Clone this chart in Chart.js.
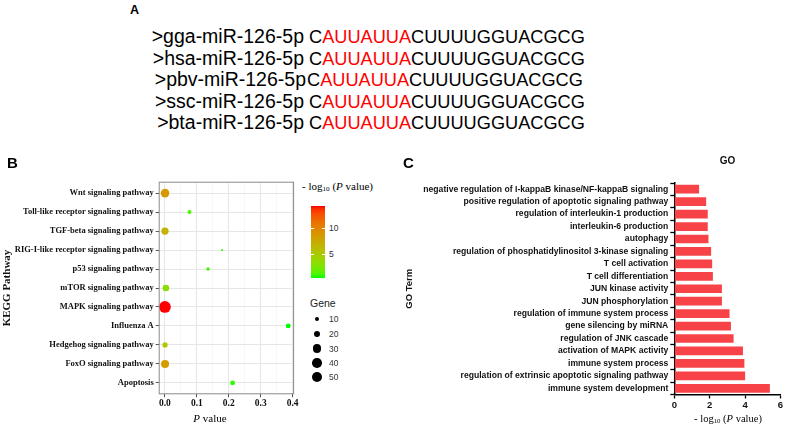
<!DOCTYPE html>
<html>
<head>
<meta charset="utf-8">
<script src="https://cdn.jsdelivr.net/npm/chart.js@4.4.1/dist/chart.umd.min.js"></script>
<style>
  body { margin: 0; background: #fff; }
  #page { position: relative; width: 786px; height: 429px; overflow: hidden; font-family: "Liberation Sans", Arial, sans-serif; }
  .t { position: absolute; white-space: nowrap; line-height: 1; }
  .serif { font-family: "Liberation Serif", "Times New Roman", serif; }
  .letter { font-weight: bold; }
  canvas { position: absolute; }
  sub { font-size: 65%; vertical-align: -0.25em; line-height: 0; }
</style>
</head>
<body>
<div id="page">
  <canvas id="kegg" width="300" height="259" style="left:0;top:170px;width:300px;height:259px"></canvas>
  <canvas id="go" width="396" height="279" style="left:390px;top:150px;width:396px;height:279px"></canvas>
</div>
<script>
// panel A: sequences
const mirNames = ['>gga-miR-126-5p', '>hsa-miR-126-5p', '>pbv-miR-126-5p', '>ssc-miR-126-5p', '>bta-miR-126-5p'];
const mirSeqs = ['CAUUAUUACUUUUGGUACGCG', 'CAUUAUUACUUUUGGUACGCG', 'CAUUAUUACUUUUGGUACGCG', 'CAUUAUUACUUUUGGUACGCG', 'CAUUAUUACUUUUGGUACGCG'];
const seedFrom = 1, seedTo = 8;

// panel B: KEGG bubbles (bottom to top)
const keggPathways = ['Apoptosis', 'FoxO signaling pathway', 'Hedgehog signaling pathway', 'Influenza A',
  'MAPK signaling pathway', 'mTOR signaling pathway', 'p53 signaling pathway',
  'RIG-I-like receptor signaling pathway', 'TGF-beta signaling pathway',
  'Toll-like receptor signaling pathway', 'Wnt signaling pathway'];
const keggPValue = [0.212, 0.0004, 0.0003, 0.386, 0.0000001, 0.003, 0.135, 0.179, 0.0002, 0.077, 0.0003];
const keggGenes = [10, 28, 12, 10, 60, 19, 5, 2, 23, 7, 32];
const keggLogP = [0.67, 8.6, 5.4, 0.41, 14.4, 3.4, 0.87, 0.75, 6.9, 1.11, 8.8];
const pTicks = [0, 0.1, 0.2, 0.3, 0.4];
const colourTicks = [5, 10];
const geneBreaks = [10, 20, 30, 40, 50];

// panel C: GO terms (top to bottom)
const goTerms = ['negative regulation of I-kappaB kinase/NF-kappaB signaling',
  'positive regulation of apoptotic signaling pathway', 'regulation of interleukin-1 production',
  'interleukin-6 production', 'autophagy', 'regulation of phosphatidylinositol 3-kinase signaling',
  'T cell activation', 'T cell differentiation', 'JUN kinase activity', 'JUN phosphorylation',
  'regulation of immune system process', 'gene silencing by miRNA', 'regulation of JNK cascade',
  'activation of MAPK activity', 'immune system process',
  'regulation of extrinsic apoptotic signaling pathway', 'immune system development'];
const goLogP = [1.40, 1.80, 1.89, 1.89, 1.93, 2.08, 2.14, 2.18, 2.69, 2.69, 3.12, 3.20, 3.35, 3.88, 3.96, 4.00, 5.40];
const goTicks = [0, 2, 4, 6];

const page = document.getElementById('page');
function text(html, x, y, style, cls) {
  const d = document.createElement('div');
  d.className = 't ' + (cls || '');
  d.innerHTML = html;
  d.style.cssText = `left:${x}px;top:${y}px;` + (style || '');
  page.appendChild(d);
  return d;
}

// ---- colour scale: green -> red interpolated in CIE Lab (like ggplot) ----
function toLab([r, g, b]) {
  const lin = c => { c /= 255; return c <= 0.04045 ? c / 12.92 : Math.pow((c + 0.055) / 1.055, 2.4); };
  const R = lin(r), G = lin(g), B = lin(b);
  const X = (0.4124 * R + 0.3576 * G + 0.1805 * B) / 0.95047;
  const Y = 0.2126 * R + 0.7152 * G + 0.0722 * B;
  const Z = (0.0193 * R + 0.1192 * G + 0.9505 * B) / 1.08883;
  const f = t => t > 0.008856 ? Math.cbrt(t) : 7.787 * t + 16 / 116;
  return [116 * f(Y) - 16, 500 * (f(X) - f(Y)), 200 * (f(Y) - f(Z))];
}
function fromLab([L, a, b]) {
  const fy = (L + 16) / 116, fx = fy + a / 500, fz = fy - b / 200;
  const inv = t => t * t * t > 0.008856 ? t * t * t : (t - 16 / 116) / 7.787;
  const X = inv(fx) * 0.95047, Y = inv(fy), Z = inv(fz) * 1.08883;
  const R = 3.2406 * X - 1.5372 * Y - 0.4986 * Z;
  const G = -0.9689 * X + 1.8758 * Y + 0.0415 * Z;
  const B = 0.0557 * X - 0.2040 * Y + 1.0570 * Z;
  const gam = c => { c = c <= 0.0031308 ? 12.92 * c : 1.055 * Math.pow(c, 1 / 2.4) - 0.055; return Math.round(Math.min(1, Math.max(0, c)) * 255); };
  return `rgb(${gam(R)},${gam(G)},${gam(B)})`;
}
const labLow = toLab([0, 255, 0]), labHigh = toLab([255, 0, 0]);
const cMin = Math.min(...keggLogP), cMax = Math.max(...keggLogP);
function logColour(v) {
  const t = (v - cMin) / (cMax - cMin);
  return fromLab(labLow.map((l, i) => l + (labHigh[i] - l) * t));
}
const geneRadius = g => 0.76 * Math.sqrt(g);

// ---- panel A ----
text('A', 130, 10, 'font-size:12.5px;transform:translateY(-50%)', 'letter');
const rowY = [37, 58.5, 80, 101.5, 123];
const seqLeft = [309, 309, 307, 309, 309];
const labelGap = [5, 5, 1, 5, 5];
mirNames.forEach((name, i) => {
  text(name, 0, rowY[i], `font-size:19.5px;width:${seqLeft[i] - labelGap[i]}px;text-align:right;transform:translateY(-50%)`);
  const s = mirSeqs[i];
  const html = s.slice(0, seedFrom) + '<span style="color:#f00">' + s.slice(seedFrom, seedTo) + '</span>' + s.slice(seedTo);
  text(html, seqLeft[i], rowY[i], 'font-size:18.2px;transform:translateY(-50%)');
});

// ---- panel B ----
text('B', 7, 162, 'font-size:15px;transform:translateY(-50%)', 'letter');
text('P value'.replace('P', '<i>P</i>'), 210, 418, 'font-size:11px;transform:translate(-50%,-50%)', 'serif');

const isMajor = v => Math.abs(v * 10 - Math.round(v * 10)) < 1e-6;
const panelBorder = {
  id: 'panelBorder',
  afterDatasetsDraw(chart) {
    const { ctx, chartArea: a } = chart;
    ctx.save();
    ctx.strokeStyle = '#8a8a8a';
    ctx.lineWidth = 1;
    ctx.strokeRect(a.left + 0.5, a.top + 0.5, a.right - a.left - 1, a.bottom - a.top - 1);
    ctx.restore();
  }
};

new Chart(document.getElementById('kegg'), {
  type: 'bubble',
  data: {
    datasets: [{
      data: keggPValue.map((p, i) => ({ x: p, y: i, r: geneRadius(keggGenes[i]) })),
      backgroundColor: keggLogP.map(logColour),
      borderWidth: 0,
      hoverBorderWidth: 0,
      clip: false
    }]
  },
  options: {
    responsive: false,
    animation: false,
    layout: { padding: { left: 0, top: 11.7, right: 3.3, bottom: 14.7 } },
    plugins: { legend: { display: false }, tooltip: { enabled: false } },
    scales: {
      x: {
        type: 'linear', min: -0.0195, max: 0.4045,
        afterFit: s => { s.height = 20; },
        ticks: {
          stepSize: 0.05, includeBounds: false, padding: 1, color: '#111',
          maxRotation: 0, minRotation: 0, autoSkip: false,
          font: { family: 'Liberation Serif', weight: 'bold', size: 9.5 },
          callback: v => (isMajor(v) && pTicks.some(t => Math.abs(t - v) < 1e-6)) ? v.toFixed(1) : ''
        },
        grid: {
          color: c => isMajor(c.tick.value) ? '#e6e6e6' : '#f3f3f3',
          lineWidth: c => isMajor(c.tick.value) ? 1 : 0.6,
          tickColor: c => isMajor(c.tick.value) ? '#555' : 'rgba(0,0,0,0)',
          tickLength: 3, tickWidth: 1
        },
        border: { display: false }
      },
      y: {
        type: 'linear', min: -0.6, max: 10.6,
        afterFit: s => { s.width = 158.7; },
        ticks: {
          stepSize: 1, includeBounds: false, padding: 2, color: '#111',
          font: { family: 'Liberation Serif', weight: 'bold', size: 8.5 },
          callback: v => keggPathways[v] || ''
        },
        grid: { color: '#e6e6e6', tickColor: '#555', tickLength: 3, tickWidth: 1 },
        border: { display: false },
        title: {
          display: true, text: 'KEGG Pathway', color: '#111', padding: { top: 1, bottom: 0 },
          font: { family: 'Liberation Serif', weight: 'bold', size: 11 }
        }
      }
    }
  },
  plugins: [panelBorder]
});

// legend for B
text('- log<sub>10</sub> (<i>P</i> value)', 302, 186, 'font-size:11px;transform:translateY(-50%)', 'serif');
const barTop = 205.7, barBottom = 278, barLeft = 311, barW = 14;
const stops = [];
for (let k = 0; k <= 20; k++) stops.push(`${logColour(cMax - (cMax - cMin) * k / 20)} ${k * 5}%`);
const bar = document.createElement('div');
bar.style.cssText = `position:absolute;left:${barLeft}px;top:${barTop}px;width:${barW}px;height:${barBottom - barTop}px;background:linear-gradient(to bottom, ${stops.join(',')})`;
page.appendChild(bar);
colourTicks.forEach(v => {
  const y = barTop + (cMax - v) / (cMax - cMin) * (barBottom - barTop);
  [barLeft, barLeft + barW - 3].forEach(x => {
    const m = document.createElement('div');
    m.style.cssText = `position:absolute;left:${x}px;top:${y - 0.5}px;width:3px;height:1px;background:#fff`;
    page.appendChild(m);
  });
  text(String(v), 329, y, 'font-size:8.5px;color:#333;transform:translateY(-50%)');
});
text('Gene', 310, 303, 'font-size:10.5px;color:#222;transform:translateY(-50%)');
const geneY = [319, 334, 348.5, 362.7, 377];
geneBreaks.forEach((g, i) => {
  const r = geneRadius(g);
  const c = document.createElement('div');
  c.style.cssText = `position:absolute;left:${317 - r}px;top:${geneY[i] - r}px;width:${2 * r}px;height:${2 * r}px;border-radius:50%;background:#000`;
  page.appendChild(c);
  text(String(g), 329, geneY[i], 'font-size:8.5px;color:#333;transform:translateY(-50%)');
});

// ---- panel C ----
text('C', 403, 162, 'font-size:15px;transform:translateY(-50%)', 'letter');
text('GO', 727.5, 161, 'font-size:10px;font-weight:bold;color:#111;transform:translate(-50%,-50%)');
text('- log<sub>10</sub> (<i>P</i> value)', 728, 419, 'font-size:10.5px;transform:translate(-50%,-50%)', 'serif');

new Chart(document.getElementById('go'), {
  type: 'bar',
  data: {
    labels: goTerms,
    datasets: [{
      data: goLogP,
      backgroundColor: '#f74347',
      barPercentage: 0.7,
      categoryPercentage: 1
    }]
  },
  options: {
    indexAxis: 'y',
    responsive: false,
    animation: false,
    layout: { padding: { left: 0, top: 33, right: 5.5, bottom: 16.5 } },
    plugins: { legend: { display: false }, tooltip: { enabled: false } },
    scales: {
      x: {
        min: 0, max: 6,
        afterFit: s => { s.height = 18; },
        ticks: {
          stepSize: 2, padding: 1, color: '#111',
          font: { family: 'Liberation Sans', weight: 'bold', size: 9.5 },
          callback: v => goTicks.includes(v) ? String(v) : ''
        },
        grid: { drawOnChartArea: false, tickColor: '#000', tickLength: 4, tickWidth: 1.3 },
        border: { color: '#000', width: 1.5 }
      },
      y: {
        afterFit: s => { s.width = 284.3; },
        ticks: {
          padding: 2, color: '#111', autoSkip: false,
          font: { family: 'Liberation Sans', weight: 'bold', size: 8.6 }
        },
        grid: { drawOnChartArea: false, tickColor: '#000', tickLength: 4, tickWidth: 1.3 },
        border: { color: '#000', width: 1.5 },
        title: {
          display: true, text: 'GO Term', color: '#111', padding: { top: 14, bottom: 0 },
          font: { family: 'Liberation Sans', weight: 'bold', size: 9.5 }
        }
      }
    }
  }
});
</script>
</body>
</html>
